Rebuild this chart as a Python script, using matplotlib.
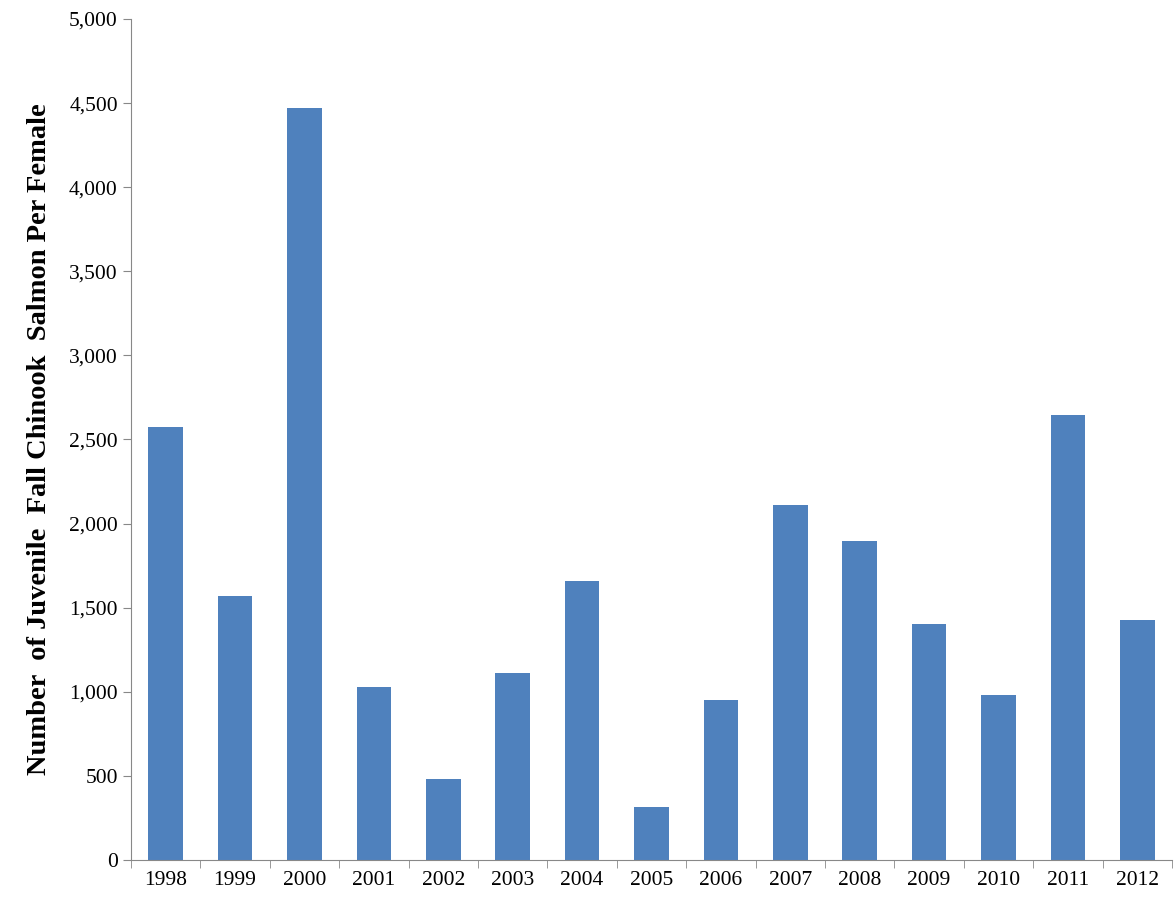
import numpy as np
import matplotlib.pyplot as plt
from matplotlib.ticker import FuncFormatter

years = ['1998', '1999', '2000', '2001', '2002', '2003', '2004', '2005',
         '2006', '2007', '2008', '2009', '2010', '2011', '2012']
juveniles = [2574, 1570, 4471, 1029, 482, 1112, 1659, 315,
             951, 2111, 1897, 1403, 981, 2646, 1427]

plt.rcParams['font.family'] = ['Liberation Serif', 'DejaVu Serif']

fig = plt.figure(figsize=(11.75, 9.05), dpi=100)
ax = fig.add_axes([131 / 1175, 45 / 905, 1041 / 1175, 841 / 905])

x = np.arange(len(years))
ax.bar(x, juveniles, width=0.5, color='#4F81BD')

ax.set_xlim(-0.5, len(years) - 0.5)
ax.set_ylim(0, 5000)
ax.set_yticks(np.arange(0, 5001, 500))
ax.yaxis.set_major_formatter(FuncFormatter(lambda v, p: f'{int(v):,}'))
ax.set_xticks(x)
ax.set_xticklabels(years)
ax.set_xticks(np.arange(-0.5, len(years), 1), minor=True)
ax.tick_params(axis='x', which='major', length=0, labelsize=15.5, pad=8)
ax.tick_params(axis='x', which='minor', length=6, color='#888888', direction='out')
ax.tick_params(axis='y', labelsize=15.5, length=6, color='#888888', direction='out')

for s in ['top', 'right']:
    ax.spines[s].set_visible(False)
for s in ['left', 'bottom']:
    ax.spines[s].set_color('#888888')

ax.set_ylabel('Number  of Juvenile  Fall Chinook  Salmon Per Female',
              fontsize=20.5, fontweight='bold', labelpad=12)

fig.savefig('out.png', dpi=100)
